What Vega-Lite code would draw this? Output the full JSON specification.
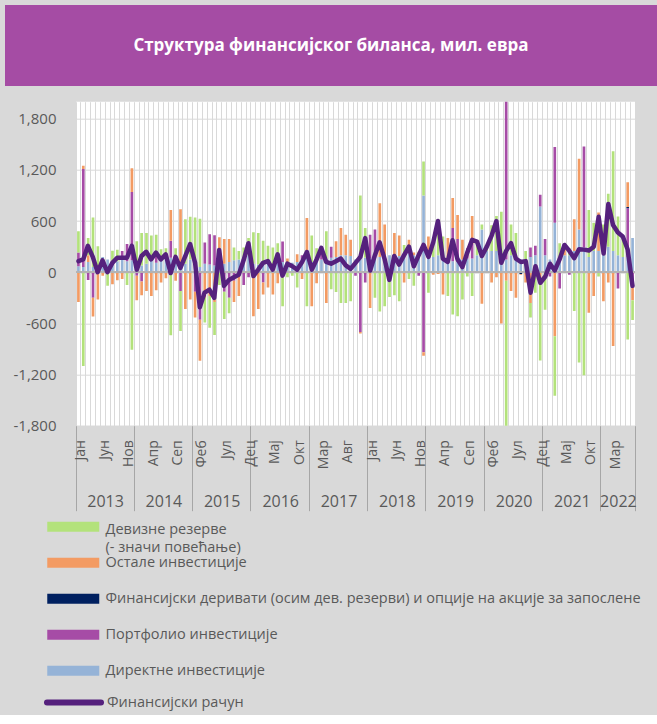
{
"$schema": "https://vega.github.io/schema/vega-lite/v6.json",
"background": "#d9d9d9",
"padding": {"left": 4, "top": 5, "right": 0, "bottom": 0},
"spacing": {"row": 15.7, "column": 0},
"columns": 2,
"align": "none",
"config": {"font": "Open Sans", "view": {"stroke": null}},
"datasets": {"d": [
{"m":"2013-01","s1":70,"s2":160,"s3":0,"s4":-350,"s5":250,"fa":130},
{"m":"2013-02","s1":60,"s2":1150,"s3":0,"s4":40,"s5":-1100,"fa":150},
{"m":"2013-03","s1":120,"s2":-90,"s3":0,"s4":80,"s5":200,"fa":310},
{"m":"2013-04","s1":60,"s2":-300,"s3":0,"s4":-220,"s5":583,"fa":180},
{"m":"2013-05","s1":20,"s2":0,"s3":0,"s4":-320,"s5":284,"fa":0},
{"m":"2013-06","s1":180,"s2":0,"s3":0,"s4":-40,"s5":0,"fa":140},
{"m":"2013-07","s1":150,"s2":0,"s3":0,"s4":0,"s5":-160,"fa":0},
{"m":"2013-08","s1":100,"s2":0,"s3":0,"s4":-140,"s5":153,"fa":110},
{"m":"2013-09","s1":130,"s2":0,"s3":0,"s4":-95,"s5":135,"fa":170},
{"m":"2013-10","s1":150,"s2":100,"s3":0,"s4":-80,"s5":0,"fa":170},
{"m":"2013-11","s1":130,"s2":200,"s3":0,"s4":0,"s5":-150,"fa":170},
{"m":"2013-12","s1":140,"s2":800,"s3":0,"s4":280,"s5":-910,"fa":310},
{"m":"2014-01","s1":90,"s2":-40,"s3":0,"s4":-290,"s5":273,"fa":30},
{"m":"2014-02","s1":80,"s2":-110,"s3":0,"s4":-160,"s5":380,"fa":190},
{"m":"2014-03","s1":100,"s2":0,"s3":0,"s4":-220,"s5":360,"fa":240},
{"m":"2014-04","s1":190,"s2":0,"s3":0,"s4":-280,"s5":240,"fa":150},
{"m":"2014-05","s1":110,"s2":100,"s3":0,"s4":-210,"s5":230,"fa":230},
{"m":"2014-06","s1":170,"s2":0,"s3":0,"s4":-120,"s5":100,"fa":150},
{"m":"2014-07","s1":190,"s2":0,"s3":0,"s4":-70,"s5":90,"fa":210},
{"m":"2014-08","s1":170,"s2":200,"s3":0,"s4":360,"s5":-740,"fa":-10},
{"m":"2014-09","s1":130,"s2":0,"s3":0,"s4":-100,"s5":150,"fa":180},
{"m":"2014-10","s1":110,"s2":-220,"s3":0,"s4":630,"s5":-470,"fa":50},
{"m":"2014-11","s1":100,"s2":0,"s3":0,"s4":-430,"s5":520,"fa":190},
{"m":"2014-12","s1":150,"s2":0,"s3":0,"s4":-320,"s5":500,"fa":330},
{"m":"2015-01","s1":100,"s2":-230,"s3":0,"s4":-300,"s5":543,"fa":110},
{"m":"2015-02","s1":60,"s2":-557,"s3":0,"s4":-480,"s5":568,"fa":-410},
{"m":"2015-03","s1":100,"s2":250,"s3":0,"s4":-300,"s5":-290,"fa":-240},
{"m":"2015-04","s1":90,"s2":355,"s3":0,"s4":-280,"s5":-370,"fa":-205},
{"m":"2015-05","s1":80,"s2":355,"s3":0,"s4":-350,"s5":-385,"fa":-300},
{"m":"2015-06","s1":110,"s2":0,"s3":0,"s4":300,"s5":-150,"fa":260},
{"m":"2015-07","s1":100,"s2":-230,"s3":0,"s4":290,"s5":-320,"fa":-160},
{"m":"2015-08","s1":120,"s2":-300,"s3":0,"s4":270,"s5":-180,"fa":-90},
{"m":"2015-09","s1":140,"s2":-100,"s3":0,"s4":-250,"s5":150,"fa":-60},
{"m":"2015-10","s1":150,"s2":0,"s3":0,"s4":-280,"s5":100,"fa":-30},
{"m":"2015-11","s1":160,"s2":-150,"s3":0,"s4":0,"s5":130,"fa":140},
{"m":"2015-12","s1":200,"s2":-60,"s3":0,"s4":0,"s5":200,"fa":340},
{"m":"2016-01","s1":100,"s2":0,"s3":0,"s4":-515,"s5":370,"fa":-45},
{"m":"2016-02","s1":90,"s2":0,"s3":0,"s4":-430,"s5":370,"fa":30},
{"m":"2016-03","s1":110,"s2":-120,"s3":0,"s4":-140,"s5":260,"fa":110},
{"m":"2016-04","s1":100,"s2":0,"s3":0,"s4":-180,"s5":210,"fa":130},
{"m":"2016-05","s1":90,"s2":0,"s3":0,"s4":-260,"s5":200,"fa":30},
{"m":"2016-06","s1":120,"s2":100,"s3":0,"s4":-130,"s5":120,"fa":210},
{"m":"2016-07","s1":120,"s2":240,"s3":0,"s4":0,"s5":-400,"fa":-40},
{"m":"2016-08","s1":100,"s2":0,"s3":0,"s4":60,"s5":-60,"fa":100},
{"m":"2016-09","s1":110,"s2":0,"s3":0,"s4":0,"s5":-40,"fa":70},
{"m":"2016-10","s1":120,"s2":0,"s3":0,"s4":90,"s5":-180,"fa":30},
{"m":"2016-11","s1":150,"s2":50,"s3":0,"s4":-80,"s5":0,"fa":120},
{"m":"2016-12","s1":180,"s2":0,"s3":0,"s4":456,"s5":-400,"fa":236},
{"m":"2017-01","s1":120,"s2":0,"s3":0,"s4":-400,"s5":310,"fa":30},
{"m":"2017-02","s1":130,"s2":0,"s3":0,"s4":-130,"s5":150,"fa":150},
{"m":"2017-03","s1":150,"s2":75,"s3":0,"s4":0,"s5":60,"fa":285},
{"m":"2017-04","s1":160,"s2":0,"s3":0,"s4":-360,"s5":320,"fa":120},
{"m":"2017-05","s1":170,"s2":130,"s3":0,"s4":0,"s5":-200,"fa":100},
{"m":"2017-06","s1":180,"s2":0,"s3":0,"s4":183,"s5":-233,"fa":130},
{"m":"2017-07","s1":200,"s2":0,"s3":0,"s4":320,"s5":-360,"fa":160},
{"m":"2017-08","s1":200,"s2":0,"s3":0,"s4":240,"s5":-360,"fa":80},
{"m":"2017-09","s1":190,"s2":0,"s3":0,"s4":190,"s5":-340,"fa":40},
{"m":"2017-10","s1":150,"s2":-40,"s3":0,"s4":0,"s5":0,"fa":110},
{"m":"2017-11","s1":200,"s2":-700,"s3":0,"s4":-20,"s5":700,"fa":180},
{"m":"2017-12","s1":170,"s2":-120,"s3":0,"s4":0,"s5":350,"fa":400},
{"m":"2018-01","s1":160,"s2":280,"s3":0,"s4":-420,"s5":0,"fa":20},
{"m":"2018-02","s1":170,"s2":330,"s3":0,"s4":0,"s5":-300,"fa":200},
{"m":"2018-03","s1":180,"s2":0,"s3":0,"s4":630,"s5":-460,"fa":350},
{"m":"2018-04","s1":200,"s2":0,"s3":0,"s4":360,"s5":-400,"fa":160},
{"m":"2018-05","s1":200,"s2":0,"s3":0,"s4":0,"s5":-290,"fa":-90},
{"m":"2018-06","s1":200,"s2":0,"s3":0,"s4":260,"s5":-270,"fa":190},
{"m":"2018-07","s1":190,"s2":0,"s3":0,"s4":240,"s5":-340,"fa":90},
{"m":"2018-08","s1":180,"s2":0,"s3":0,"s4":-120,"s5":140,"fa":200},
{"m":"2018-09","s1":220,"s2":60,"s3":0,"s4":100,"s5":-80,"fa":300},
{"m":"2018-10","s1":200,"s2":0,"s3":0,"s4":30,"s5":-160,"fa":70},
{"m":"2018-11","s1":190,"s2":-40,"s3":0,"s4":50,"s5":0,"fa":200},
{"m":"2018-12","s1":900,"s2":-940,"s3":0,"s4":-40,"s5":400,"fa":320},
{"m":"2019-01","s1":200,"s2":0,"s3":0,"s4":220,"s5":-240,"fa":180},
{"m":"2019-02","s1":180,"s2":0,"s3":0,"s4":-30,"s5":200,"fa":350},
{"m":"2019-03","s1":200,"s2":0,"s3":0,"s4":-20,"s5":420,"fa":600},
{"m":"2019-04","s1":170,"s2":0,"s3":0,"s4":-260,"s5":250,"fa":160},
{"m":"2019-05","s1":160,"s2":0,"s3":0,"s4":240,"s5":-280,"fa":120},
{"m":"2019-06","s1":130,"s2":390,"s3":0,"s4":350,"s5":-495,"fa":375},
{"m":"2019-07","s1":120,"s2":270,"s3":0,"s4":280,"s5":-515,"fa":155},
{"m":"2019-08","s1":150,"s2":0,"s3":0,"s4":230,"s5":-320,"fa":60},
{"m":"2019-09","s1":160,"s2":120,"s3":0,"s4":0,"s5":-50,"fa":230},
{"m":"2019-10","s1":160,"s2":170,"s3":0,"s4":330,"s5":-280,"fa":380},
{"m":"2019-11","s1":200,"s2":0,"s3":0,"s4":0,"s5":160,"fa":360},
{"m":"2019-12","s1":500,"s2":0,"s3":0,"s4":-370,"s5":60,"fa":190},
{"m":"2020-01","s1":250,"s2":0,"s3":0,"s4":0,"s5":50,"fa":300},
{"m":"2020-02","s1":250,"s2":0,"s3":0,"s4":-120,"s5":300,"fa":430},
{"m":"2020-03","s1":250,"s2":0,"s3":0,"s4":-60,"s5":410,"fa":600},
{"m":"2020-04","s1":200,"s2":0,"s3":0,"s4":-600,"s5":510,"fa":110},
{"m":"2020-05","s1":150,"s2":2300,"s3":0,"s4":-100,"s5":-2100,"fa":250},
{"m":"2020-06","s1":200,"s2":0,"s3":0,"s4":-220,"s5":360,"fa":340},
{"m":"2020-07","s1":180,"s2":0,"s3":0,"s4":-300,"s5":280,"fa":160},
{"m":"2020-08","s1":150,"s2":0,"s3":-20,"s4":-10,"s5":0,"fa":120},
{"m":"2020-09","s1":150,"s2":0,"s3":0,"s4":-120,"s5":100,"fa":130},
{"m":"2020-10","s1":180,"s2":110,"s3":0,"s4":-360,"s5":-170,"fa":-240},
{"m":"2020-11","s1":200,"s2":110,"s3":0,"s4":0,"s5":-240,"fa":70},
{"m":"2020-12","s1":770,"s2":140,"s3":0,"s4":-110,"s5":-924,"fa":-124},
{"m":"2021-01","s1":200,"s2":190,"s3":0,"s4":0,"s5":-440,"fa":-50},
{"m":"2021-02","s1":150,"s2":-50,"s3":0,"s4":0,"s5":0,"fa":100},
{"m":"2021-03","s1":580,"s2":890,"s3":0,"s4":-750,"s5":-700,"fa":20},
{"m":"2021-04","s1":150,"s2":-190,"s3":0,"s4":0,"s5":190,"fa":150},
{"m":"2021-05","s1":200,"s2":0,"s3":0,"s4":120,"s5":0,"fa":320},
{"m":"2021-06","s1":200,"s2":-30,"s3":0,"s4":0,"s5":80,"fa":250},
{"m":"2021-07","s1":250,"s2":0,"s3":0,"s4":370,"s5":-456,"fa":164},
{"m":"2021-08","s1":500,"s2":0,"s3":0,"s4":830,"s5":-1060,"fa":270},
{"m":"2021-09","s1":290,"s2":1184,"s3":0,"s4":0,"s5":-1209,"fa":265},
{"m":"2021-10","s1":180,"s2":0,"s3":0,"s4":-476,"s5":550,"fa":254},
{"m":"2021-11","s1":250,"s2":0,"s3":0,"s4":-280,"s5":330,"fa":300},
{"m":"2021-12","s1":250,"s2":0,"s3":0,"s4":450,"s5":-50,"fa":650},
{"m":"2022-01","s1":300,"s2":0,"s3":0,"s4":-339,"s5":260,"fa":220},
{"m":"2022-02","s1":300,"s2":0,"s3":0,"s4":-120,"s5":620,"fa":800},
{"m":"2022-03","s1":250,"s2":0,"s3":0,"s4":-866,"s5":1170,"fa":554},
{"m":"2022-04","s1":200,"s2":-190,"s3":0,"s4":0,"s5":455,"fa":465},
{"m":"2022-05","s1":180,"s2":0,"s3":0,"s4":0,"s5":240,"fa":420},
{"m":"2022-06","s1":180,"s2":570,"s3":15,"s4":290,"s5":-788,"fa":267},
{"m":"2022-07","s1":400,"s2":-80,"s3":0,"s4":-250,"s5":-230,"fa":-160}
]},
"concat": [
{
"width": 1, "height": 1,
"data": {"values": [{"t": ""}]},
"mark": {"type": "text", "fontSize": 1, "align": "left", "baseline": "top"},
"encoding": {"text": {"field": "t", "type": "nominal"}}
},
{
"width": 652, "height": 81,
"view": {"fill": "#a54ca4", "stroke": null},
"data": {"values": [{"t": "Структура финансијског биланса, мил. евра"}]},
"mark": {"type": "text", "color": "#ffffff", "fontSize": 17, "fontWeight": "bold", "font": "Open Sans"},
"encoding": {"text": {"field": "t", "type": "nominal"}}
},
{
"width": 1, "height": 1,
"data": {"values": [{"t": ""}]},
"mark": {"type": "text", "fontSize": 1, "align": "left", "baseline": "top"},
"encoding": {"text": {"field": "t", "type": "nominal"}}
},
{
"width": 559, "height": 324,
"view": {"fill": "#ffffff", "stroke": null},
"data": {"name": "d"},
"layer": [
{
"transform": [{"fold": ["s1","s2","s3","s4","s5"], "as": ["key","v"]}],
"mark": {"type": "bar", "width": {"band": 0.55}, "clip": true},
"encoding": {
"x": {"field": "m", "type": "ordinal", "timeUnit": "utcyearmonth",
 "scale": {"paddingInner": 0, "paddingOuter": 0},
 "axis": {"orient": "bottom", "title": null, "domain": false, "ticks": true, "tickSize": 85, "tickColor": "#a6a6a6", "tickWidth": 1,
  "tickOpacity": {"condition": {"test": "utcmonth(datum.value) == 0", "value": 1}, "value": 0},
  "grid": true, "gridColor": "#d9d9d9", "gridWidth": 1, "bandPosition": 0, "labelOffset": 2.43, "labelAngle": 270, "labelFontSize": 14, "labelColor": "#595959", "labelPadding": -71, "labelOverlap": false, "labelBound": false, "labelFlush": false,
  "labelExpr": "((utcyear(datum.value) - 2013) * 12 + utcmonth(datum.value)) % 5 == 0 ? ['Јан','Феб','Мар','Апр','Мај','Јун','Јул','Авг','Сеп','Окт','Нов','Дец'][utcmonth(datum.value)] : ''"}},
"y": {"field": "v", "type": "quantitative", "stack": "zero",
 "scale": {"domain": [-1800, 2000], "nice": false, "zero": false},
 "axis": {"title": null, "values": [-1800,-1500,-1200,-900,-600,-300,0,300,600,900,1200,1500,1800], "labelExpr": "replace(format(datum.value, ','), '−', '-')", "labelOverlap": false, "domain": false, "ticks": false, "grid": true, "gridColor": "#d9d9d9", "gridWidth": 1, "labelFontSize": 15, "labelColor": "#595959", "labelPadding": 20, "minExtent": 70.7}},
"color": {"field": "key", "type": "nominal",
 "scale": {"domain": ["s5","s4","s3","s2","s1"], "range": ["#b3e27b","#f39b63","#002060","#a64ca6","#95b3d7"]},
 "legend": {"orient": "none", "legendX": 62, "legendY": 514.5, "direction": "vertical", "title": null, "padding": 0,
  "symbolType": "M-5.2,-1H5.2V1H-5.2Z", "symbolSize": 100, "symbolStrokeWidth": 0, "symbolOpacity": 1,
  "labelOffset": 25, "labelFontSize": 14.5, "labelColor": "#595959", "labelLimit": 600, "rowPadding": 0, "gridAlign": "all",
  "labelExpr": "datum.value == 's5' ? ['Девизне резерве', '(- значи повећање)'] : datum.value == 's4' ? 'Остале инвестиције' : datum.value == 's3' ? 'Финансијски деривати (осим дев. резерви) и опције на акције за запослене' : datum.value == 's2' ? 'Портфолио инвестиције' : 'Директне инвестиције'",
  "encode": {"labels": {"update": {"dy": {"signal": "datum.value == 's5' ? 3 : 0"}, "lineHeight": {"value": 18}}}}}},
"order": {"field": "key", "type": "nominal", "sort": "ascending"}
}
},
{
"mark": {"type": "rule", "color": "#b3b3b3", "strokeWidth": 1.5},
"encoding": {"y": {"datum": 0}}
},
{
"mark": {"type": "line", "strokeWidth": 4.5, "strokeJoin": "round", "strokeCap": "round"},
"encoding": {
"x": {"field": "m", "type": "temporal", "timeUnit": "utcyearmonth", "bandPosition": 0.5,
 "scale": {"domain": [{"year": 2013, "month": 1, "date": 1, "utc": true}, {"year": 2022, "month": 8, "date": 1, "utc": true}], "nice": false},
 "axis": {"orient": "bottom", "title": null, "domain": false, "grid": false, "ticks": true, "tickSize": 85, "tickColor": "#a6a6a6", "tickWidth": 1,
  "tickOpacity": {"condition": {"test": "utcmonth(datum.value) == 7", "value": 1}, "value": 0},
  "values": [{"year":2013,"month":7,"date":2,"utc":true},{"year":2014,"month":7,"date":2,"utc":true},{"year":2015,"month":7,"date":2,"utc":true},{"year":2016,"month":7,"date":2,"utc":true},{"year":2017,"month":7,"date":2,"utc":true},{"year":2018,"month":7,"date":2,"utc":true},{"year":2019,"month":7,"date":2,"utc":true},{"year":2020,"month":7,"date":2,"utc":true},{"year":2021,"month":7,"date":2,"utc":true},{"year":2022,"month":4,"date":16,"utc":true},{"year":2022,"month":8,"date":1,"utc":true}],
  "labelExpr": "utcmonth(datum.value) == 7 ? '' : utcFormat(datum.value, '%Y')",
  "labelPadding": -17, "labelFontSize": 16, "labelColor": "#595959", "labelOverlap": false, "labelBound": false, "labelFlush": false, "labelAngle": 0, "labelAlign": "center", "labelBaseline": "top"}},
"y": {"field": "fa", "type": "quantitative", "scale": {"domain": [-1800, 2000], "nice": false, "zero": false}},
"stroke": {"datum": "Финансијски рачун", "type": "nominal", "scale": {"range": ["#55217d"]},
 "legend": {"orient": "none", "legendX": 62, "legendY": 689.5, "title": null, "padding": 0, "symbolType": "M-5.4,0H5.4", "symbolSize": 100, "symbolStrokeWidth": 6, "labelOffset": 25, "labelFontSize": 14.5, "labelColor": "#595959",
  "encode": {"symbols": {"update": {"strokeCap": {"value": "round"}}}}}}
}
}
],
"resolve": {"scale": {"x": "independent"}, "axis": {"x": "independent"}}
}
]
}
